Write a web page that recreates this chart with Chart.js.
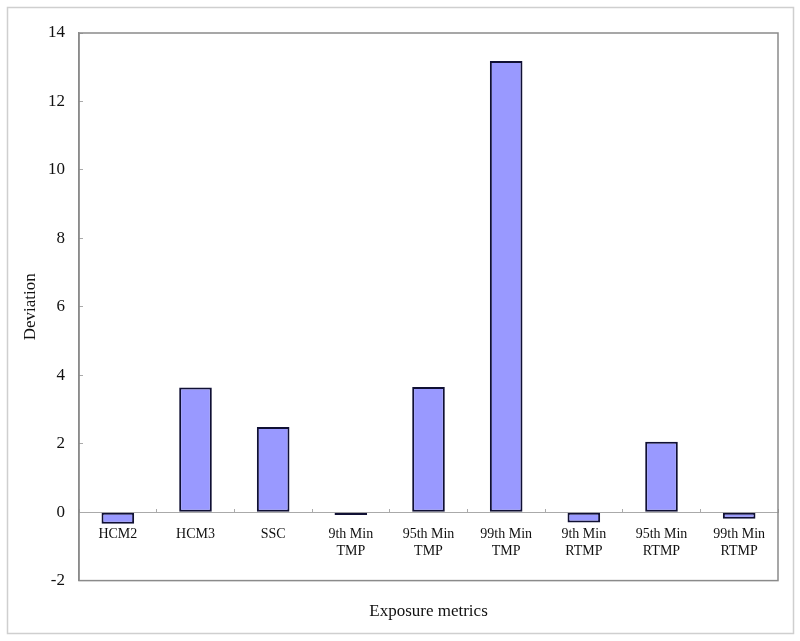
<!DOCTYPE html>
<html>
<head>
<meta charset="utf-8">
<script src="https://cdn.jsdelivr.net/npm/chart.js@4.4.0/dist/chart.umd.min.js"></script>
<style>
  html, body { margin: 0; padding: 0; background: #ffffff; }
  #wrap { width: 800px; height: 641px; }
</style>
</head>
<body>
<div id="wrap"><canvas id="chart" width="800" height="641"></canvas></div>
<script>
// categories (multi-line labels as arrays)
var categories = [
  'HCM2', 'HCM3', 'SSC',
  ['9th Min', 'TMP'], ['95th Min', 'TMP'], ['99th Min', 'TMP'],
  ['9th Min', 'RTMP'], ['95th Min', 'RTMP'], ['99th Min', 'RTMP']
];
// deviation per exposure metric
var deviation = [-0.34, 3.64, 2.49, -0.08, 3.66, 13.18, -0.30, 2.06, -0.19];

var yMin = -2, yMax = 14, yStep = 2;
var xTitle = 'Exposure metrics';
var yTitle = 'Deviation';

var serif = "'Liberation Serif', 'Times New Roman', serif";

// white page, light outer frame and grey box round the plot area
var framePlugin = {
  id: 'frames',
  beforeDraw: function(chart) {
    var c = chart.ctx;
    c.save();
    c.fillStyle = '#ffffff';
    c.fillRect(0, 0, chart.width, chart.height);
    c.strokeStyle = '#cfcfcf';
    c.lineWidth = 1.5;
    c.strokeRect(7.5, 7.5, 786, 626);
    c.restore();
  },
  afterDraw: function(chart) {
    var a = chart.chartArea, c = chart.ctx;
    c.save();
    c.strokeStyle = '#8a8a8a';
    c.lineWidth = 1.5;
    c.strokeRect(a.left, a.top, a.right - a.left, a.bottom - a.top);
    c.restore();
  }
};

var ctx = document.getElementById('chart').getContext('2d');
var myChart = new Chart(ctx, {
  type: 'bar',
  data: {
    labels: categories,
    datasets: [{
      label: yTitle,
      data: deviation,
      backgroundColor: '#9999ff',
      borderColor: '#101034',
      borderWidth: 2,
      borderSkipped: false,
      barPercentage: 0.42,
      categoryPercentage: 1.0
    }]
  },
  plugins: [framePlugin],
  options: {
    responsive: false,
    animation: false,
    layout: { padding: { left: 0, right: 22, top: 33, bottom: 19 } },
    plugins: {
      legend: { display: false },
      tooltip: { enabled: false }
    },
    scales: {
      x: {
        position: { y: 0 },
        offset: true,
        grid: {
          drawOnChartArea: false,
          offset: true,
          color: '#aaaaaa',
          tickLength: -4
        },
        border: { color: '#aaaaaa', width: 1 },
        ticks: {
          color: '#111111',
          padding: 17,
          maxRotation: 0,
          autoSkip: false,
          font: { family: serif, size: 14, lineHeight: 1.25 }
        }
      },
      x2: {
        type: 'category',
        position: 'bottom',
        offset: true,
        grid: { display: false, drawTicks: false },
        border: { display: false },
        ticks: { display: false },
        title: {
          display: true,
          text: xTitle,
          color: '#111111',
          padding: { top: 21, bottom: 0 },
          font: { family: serif, size: 17 }
        }
      },
      y: {
        min: yMin,
        max: yMax,
        afterFit: function(scale) { scale.width = 79; },
        grid: {
          drawOnChartArea: false,
          color: '#aaaaaa',
          tickLength: -4
        },
        border: { color: '#8a8a8a', width: 1.5 },
        ticks: {
          stepSize: yStep,
          color: '#111111',
          padding: 18,
          font: { family: serif, size: 17 }
        },
        title: {
          display: true,
          text: yTitle,
          color: '#111111',
          padding: { top: 20, bottom: 0 },
          font: { family: serif, size: 17 }
        }
      }
    }
  }
});
</script>
</body>
</html>
